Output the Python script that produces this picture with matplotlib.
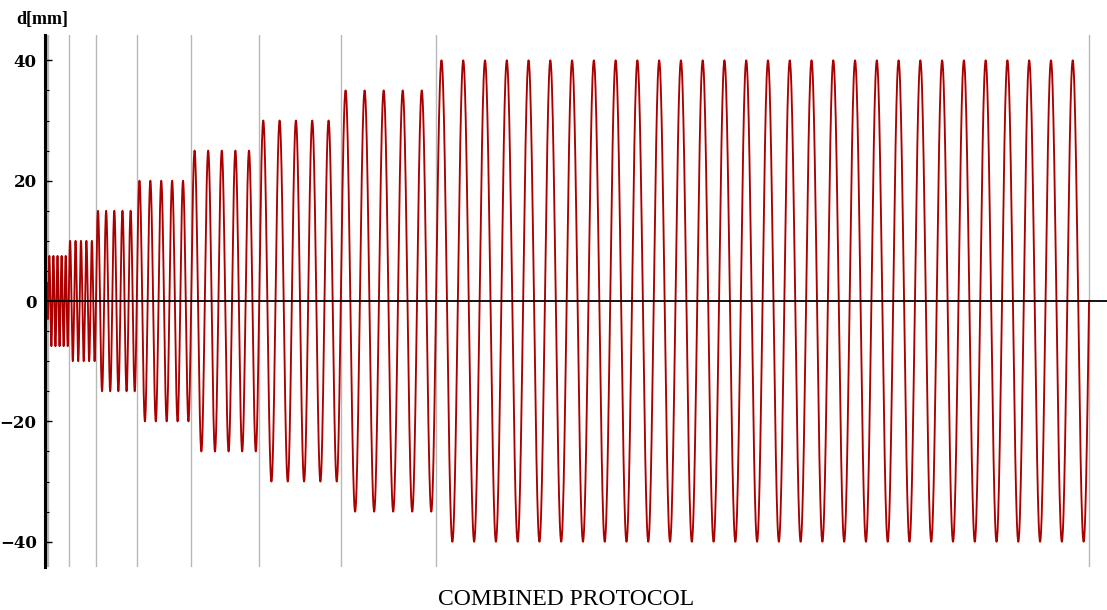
import numpy as np
import matplotlib.pyplot as plt
from matplotlib.ticker import MultipleLocator

# stage amplitudes [mm] and number of cycles per stage
amplitudes = [1.5, 3, 7.5, 10, 15, 20, 25, 30, 35, 40]
cycles = [1, 1, 5, 5, 5, 5, 5, 5, 5, 30]
# cycle period is proportional to amplitude (constant rate)
period_per_mm = 1.0

y_ticks = [-40, -20, 0, 20, 40]
title = 'COMBINED PROTOCOL'
y_label = 'd[mm]'

# build the displacement history
t_all, d_all = [], []
boundaries = [0.0]
t0 = 0.0
for A, n in zip(amplitudes, cycles):
    T = A * period_per_mm
    t = np.linspace(t0, t0 + n * T, n * 80 + 1)
    t_all.append(t)
    d_all.append(A * np.sin(2 * np.pi * (t - t0) / T))
    t0 += n * T
    boundaries.append(t0)
t_all = np.concatenate(t_all)
d_all = np.concatenate(d_all)

fig = plt.figure(figsize=(11.07, 6.10), dpi=100)
ax = fig.add_axes([0.0407, 0.0705, 0.9593, 0.872])

for b in boundaries:
    ax.axvline(b, color='#b8b8b8', linewidth=1.0, zorder=1)
ax.axhline(0, color='black', linewidth=1.3, zorder=3)
ax.plot(t_all, d_all, color='#aa0000', linewidth=1.35, zorder=2)

ax.set_xlim(-1.5, boundaries[-1] + 33)
ax.set_ylim(-44.2, 44.2)

for s in ['top', 'right', 'bottom']:
    ax.spines[s].set_visible(False)
ax.spines['left'].set_linewidth(2.2)

ax.set_xticks([])
ax.set_yticks(y_ticks)
ax.set_yticklabels([f'{v}'.replace('-', '\u2212') for v in y_ticks],
                   fontfamily='DejaVu Serif', fontweight='bold', fontsize=12)
ax.yaxis.set_minor_locator(MultipleLocator(5))
ax.tick_params(axis='y', which='major', direction='in', length=5, width=1.0, pad=6)
ax.tick_params(axis='y', which='minor', direction='in', length=3, width=0.8)

fig.text(0.015, 0.968, y_label, fontfamily='Liberation Serif', fontweight='bold',
         fontsize=13, ha='left', va='center')
fig.text(0.511, 0.018, title, fontfamily='Liberation Serif', fontsize=17,
         ha='center', va='center')

fig.savefig('out.png', dpi=100)
